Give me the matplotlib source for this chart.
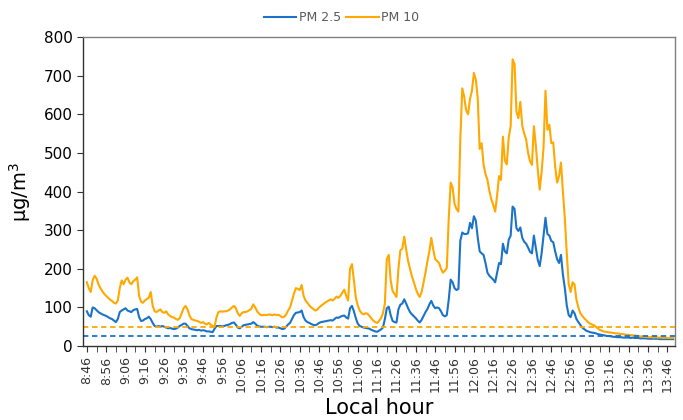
import matplotlib
matplotlib.use("Agg")
import matplotlib.pyplot as plt
import numpy as np

# one reading per minute, starting at 8:46
start_hour, start_min = 8, 46

pm25 = [90, 80, 76, 100, 98, 93, 88, 85, 82, 80,
        78, 75, 72, 70, 66, 62, 70, 88, 92, 95,
        98, 92, 90, 88, 93, 95, 96, 75, 65, 66,
        70, 72, 76, 70, 60, 52, 50, 52, 50, 52,
        50, 48, 46, 47, 45, 44, 45, 48, 52, 55,
        58, 58, 52, 46, 44, 43, 42, 41, 42, 40,
        41, 40, 38, 38, 37, 36, 45, 52, 52, 52,
        51, 52, 54, 55, 57, 60, 61, 55, 48, 46,
        50, 54, 55, 56, 57, 58, 62, 58, 53, 51,
        50, 50, 50, 49, 50, 50, 49, 50, 48, 48,
        46, 44, 45, 50, 56, 60, 70, 80, 86, 87,
        88, 92, 75, 66, 62, 60, 57, 55, 54, 56,
        60, 62, 63, 64, 65, 66, 67, 66, 70, 74,
        73, 76, 78, 79, 74, 71, 98, 104, 90, 72,
        58, 52, 50, 48, 47, 46, 45, 42, 40, 38,
        37, 40, 43, 48, 70, 98, 102, 80, 65, 62,
        61, 95, 107, 110, 121, 110, 98, 88, 82, 77,
        72, 66, 61, 68, 78, 88, 96, 108, 117, 105,
        98, 100, 98, 90, 80, 77, 80, 120, 172, 165,
        150, 145, 148, 273, 294, 290, 290, 292, 319, 305,
        336, 325, 280, 245, 240, 236, 215, 190, 182, 177,
        172, 165, 190, 215, 212, 265, 245, 240, 275, 286,
        361, 355, 305, 298, 307, 280, 270, 265, 255, 244,
        240, 286, 255, 223, 207, 240, 285, 332, 290, 286,
        272, 269, 245, 225, 215, 236, 185, 150, 105, 80,
        75, 92, 85, 70, 62, 55, 48, 44, 40, 38,
        36, 35, 34, 33, 31, 30, 29, 28, 27, 26,
        26, 25, 24, 24, 23, 23, 23, 22, 22, 22,
        22, 21, 22, 21, 21, 21, 20, 20, 20, 20,
        19, 19, 19, 19, 19, 19, 18, 18, 18, 18,
        18, 18, 18, 18]

pm10 = [165, 150, 140, 170, 182, 175, 160, 150, 142, 135,
        130, 125, 120, 117, 112, 110, 118, 150, 170, 160,
        172, 177, 165, 160, 168, 172, 178, 130, 115, 112,
        118, 122, 125, 140, 105, 90, 88, 92, 95, 88,
        86, 90, 82, 78, 75, 74, 70, 68, 72, 85,
        98, 104, 95, 80, 70, 68, 66, 65, 63, 60,
        62, 58, 56, 60, 55, 52, 50, 75, 88, 90,
        89, 90, 90, 92, 95, 100, 104, 98, 85, 78,
        85, 88, 88, 90, 93, 97, 108, 100, 90, 84,
        80, 80, 81, 80, 82, 81, 80, 82, 80, 81,
        78, 74, 76, 82, 92, 100, 118, 135, 150, 148,
        145, 158, 130, 118, 112, 105, 100, 96, 92, 94,
        100, 104, 108, 112, 115, 118, 121, 118, 122, 128,
        125, 130, 138, 146, 130, 118, 200, 212, 170, 125,
        105, 92, 85, 82, 85, 84, 78, 72, 66, 62,
        60, 65, 72, 85, 110, 225, 236, 170, 142, 135,
        127, 200, 248, 252, 283, 250, 220, 200, 180, 165,
        148, 135, 127, 140, 165, 190, 220, 245, 280, 250,
        225, 220, 215, 200, 190, 195, 202, 330, 423, 411,
        368, 355, 348, 536, 667, 645, 610, 600, 640, 661,
        707, 690, 640, 510, 525, 470, 445, 430, 402, 380,
        365, 348, 390, 440, 430, 542, 480, 470, 540, 569,
        742, 730, 607, 590, 632, 570, 550, 535, 500, 478,
        469, 569, 520, 457, 405, 450, 515, 661, 560, 573,
        525, 527, 465, 423, 440, 475, 400, 330, 240, 160,
        140, 165, 160, 120, 100, 85, 78, 72, 67, 62,
        58, 56, 54, 50, 46, 42, 40, 38, 37, 36,
        35, 35, 34, 33, 33, 32, 31, 31, 30, 29,
        29, 28, 28, 27, 27, 26, 25, 25, 24, 24,
        23, 23, 23, 22, 23, 22, 22, 22, 21, 22,
        21, 21, 21, 21]

limit_pm25 = 25
limit_pm10 = 50

blue = '#1a73c9'
orange = '#ffa800'
grey = '#808080'

minutes = np.arange(len(pm25))
labels = []
for m in range(0, len(pm25), 10):
    t = start_hour * 60 + start_min + m
    labels.append('%d:%02d' % (t // 60, t % 60))

fig = plt.figure(figsize=(6.83, 4.2), dpi=100)
ax = fig.add_axes([0.1215, 0.176, 0.867, 0.736])

ax.plot(minutes, pm25, color=blue, lw=1.5, label='PM 2.5')
ax.plot(minutes, pm10, color=orange, lw=1.5, label='PM 10')
ax.axhline(limit_pm10, color=orange, lw=1.3, ls=(0, (3, 2)))
ax.axhline(limit_pm25, color=blue, lw=1.3, ls=(0, (3, 2)))

ax.set_xlim(-2, 304)
ax.set_ylim(0, 800)
ax.set_yticks(np.arange(0, 801, 100))
ax.set_xticks(np.arange(0, len(pm25), 10))
ax.set_xticklabels(labels, rotation=90, fontsize=9, color='#333333')
ax.set_xticks(np.arange(5, len(pm25), 10), minor=True)
ax.tick_params(axis='y', labelsize=11, direction='out', length=4, color='#333333')
ax.tick_params(axis='x', which='both', direction='out', length=4, color='#333333')

for s in ax.spines.values():
    s.set_color(grey)
    s.set_linewidth(1.0)
ax.spines['left'].set_color('#333333')
ax.spines['bottom'].set_color('#333333')

ax.set_ylabel('μg/m$^3$', fontsize=14)
ax.set_xlabel('Local hour', fontsize=15)
ax.yaxis.set_label_coords(-0.085, 0.5)

fig.legend(loc='upper center', bbox_to_anchor=(0.5, 1.0), ncol=2, frameon=False,
           fontsize=9, labelcolor='#595959', handlelength=2.6, handletextpad=0.2,
           columnspacing=0.4)

fig.savefig('out.png', dpi=100)
